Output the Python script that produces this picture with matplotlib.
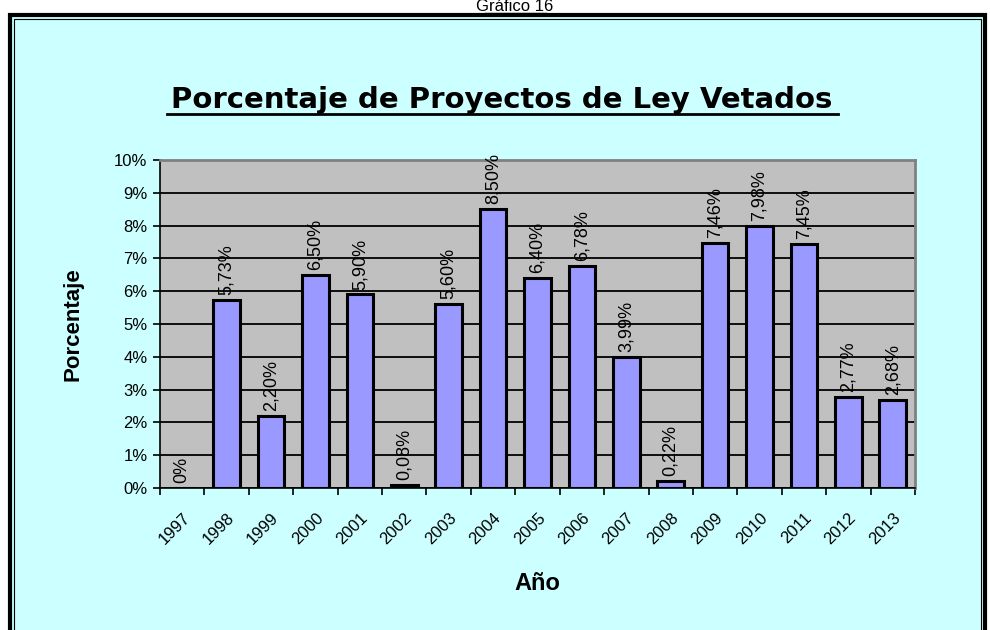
import matplotlib.pyplot as plt
from matplotlib.patches import Rectangle
from matplotlib.lines import Line2D

years = ['1997', '1998', '1999', '2000', '2001', '2002', '2003', '2004', '2005',
         '2006', '2007', '2008', '2009', '2010', '2011', '2012', '2013']
values = [0.0, 5.73, 2.20, 6.50, 5.90, 0.08, 5.60, 8.50, 6.40,
          6.78, 3.99, 0.22, 7.46, 7.98, 7.45, 2.77, 2.68]
labels = ['0%', '5,73%', '2,20%', '6,50%', '5,90%', '0,08%', '5,60%', '8,50%', '6,40%',
          '6,78%', '3,99%', '0,22%', '7,46%', '7,98%', '7,45%', '2,77%', '2,68%']

plt.rcParams['font.family'] = ['Liberation Sans', 'DejaVu Sans']

fig = plt.figure(figsize=(9.9, 6.3), dpi=100, facecolor='white')
W, H = 990, 630

# outer chart frame
fig.patches.append(Rectangle((10 / W, -0.05), 975 / W, 1.05 - 15 / H, transform=fig.transFigure,
                             facecolor='#CCFFFF', edgecolor='black', linewidth=3, zorder=0))
fig.patches.append(Rectangle((14 / W, -0.05), 967 / W, 1.05 - 19 / H, transform=fig.transFigure,
                             facecolor='none', edgecolor='black', linewidth=0.8, zorder=0))

# Gráfico 16 caption at the very top
fig.text(515 / W, 1 - 11 / H, 'Gráfico 16', ha='center', va='baseline', fontsize=12)
fig.add_artist(Line2D([485 / W, 546 / W], [1 - 12.5 / H, 1 - 12.5 / H], color='black', lw=1))

ax = fig.add_axes([160 / W, 1 - 488 / H, 755 / W, 328 / H], zorder=2)
ax.set_facecolor('#C0C0C0')
x = range(len(years))
ax.bar(x, values, width=0.6, color='#9999FF', edgecolor='black', linewidth=2.2, zorder=3)

for i, (v, lab) in enumerate(zip(values, labels)):
    ax.text(i, v + 0.15, lab, rotation=90, ha='center', va='bottom', fontsize=13, zorder=4)

ax.set_xlim(-0.5, len(years) - 0.5)
ax.set_ylim(0, 10)
ax.set_yticks(range(0, 11))
ax.set_yticklabels([f'{i}%' for i in range(0, 11)], fontsize=12)
ax.yaxis.grid(True, color='black', linewidth=1.3, zorder=1)
ax.set_axisbelow(True)

ax.set_xticks(list(x))
ax.set_xticklabels(years, rotation=45, ha='right', rotation_mode='anchor', fontsize=12)
ax.set_xticks([i - 0.5 for i in range(len(years) + 1)], minor=True)
ax.tick_params(axis='x', which='major', length=0, pad=16)
ax.tick_params(axis='x', which='minor', length=5, width=1.2, direction='out')
ax.tick_params(axis='y', length=5, width=1.2, direction='out', pad=4)

for s in ['top', 'right']:
    ax.spines[s].set_color('#808080')
    ax.spines[s].set_linewidth(2)
for s in ['left', 'bottom']:
    ax.spines[s].set_color('black')
    ax.spines[s].set_linewidth(1.2)

ax.set_ylabel('Porcentaje', fontsize=16, fontweight='bold', labelpad=22)
ax.set_xlabel('Año', fontsize=17, fontweight='bold', labelpad=18)

# title with underline
fig.text(502 / W, 1 - 108 / H, 'Porcentaje de Proyectos de Ley Vetados', ha='center',
         va='baseline', fontsize=21, fontweight='bold', family=['DejaVu Sans'])
fig.add_artist(Line2D([167 / W, 838 / W], [1 - 114 / H, 1 - 114 / H], color='black', lw=2))

fig.savefig('out.png', dpi=100, facecolor=fig.get_facecolor())
